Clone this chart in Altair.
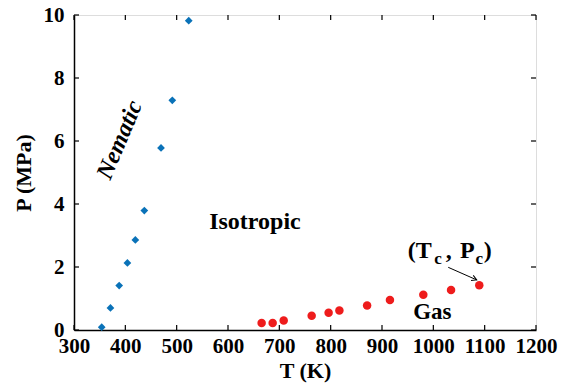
import altair as alt
import pandas as pd

# Nematic–isotropic coexistence points
nem_T = [354, 371, 388, 404, 419.5, 437, 469.5, 491.5, 523.5]
nem_P = [0.09, 0.70, 1.41, 2.13, 2.86, 3.79, 5.78, 7.29, 9.82]

# Liquid–gas coexistence points (last one is the critical point)
gas_T = [665.5, 687, 708.5, 763, 796, 817, 871, 915.5, 980.5, 1034.5, 1089.5]
gas_P = [0.22, 0.22, 0.30, 0.45, 0.55, 0.62, 0.78, 0.95, 1.12, 1.27, 1.42]

x_ticks = [300, 400, 500, 600, 700, 800, 900, 1000, 1100, 1200]
y_ticks = [0, 2, 4, 6, 8, 10]

W, H = 462, 315
FONT = "Liberation Serif"
TICK = 5

xs = alt.Scale(domain=[300, 1200], nice=False, zero=False)
ys = alt.Scale(domain=[0, 10], nice=False)

axis_style = dict(format="d", labelFont=FONT, titleFont=FONT, labelFontSize=21,
                  titleFontSize=22, labelFontWeight="bold", titleFontWeight="bold",
                  labelColor="black", titleColor="black", labelOverlap=False,
                  labelFlush=False, grid=False, tickSize=0, domainColor="black",
                  domainWidth=1.5)
x_axis = alt.Axis(values=x_ticks, labelPadding=5, titlePadding=4, **axis_style)
y_axis = alt.Axis(values=y_ticks, labelPadding=10, titlePadding=8, **axis_style)

X = lambda f: alt.X(f, type="quantitative", scale=xs, axis=x_axis, title="T (K)")
Y = lambda f: alt.Y(f, type="quantitative", scale=ys, axis=y_axis, title="P (MPa)")

nem = pd.DataFrame({"T": nem_T, "P": nem_P})
gas = pd.DataFrame({"T": gas_T, "P": gas_P})

nem_pts = alt.Chart(nem).mark_point(
    shape="diamond", filled=True, size=60, color="#0a72b8", opacity=1
).encode(x=X("T"), y=Y("P"))

gas_pts = alt.Chart(gas).mark_circle(size=72, color="#ee1c1c", opacity=1).encode(
    x=X("T"), y=Y("P")
)

# inward ticks on all four sides
xt = pd.DataFrame({"v": x_ticks})
yt = pd.DataFrame({"v": y_ticks})
tick_style = dict(color="black", strokeWidth=1.2)
bottom_ticks = alt.Chart(xt).mark_rule(**tick_style).encode(
    x=X("v"), y=alt.value(H), y2=alt.value(H - TICK))
top_ticks = alt.Chart(xt).mark_rule(**tick_style).encode(
    x=X("v"), y=alt.value(0), y2=alt.value(TICK))
left_ticks = alt.Chart(yt).mark_rule(**tick_style).encode(
    y=Y("v"), x=alt.value(0), x2=alt.value(TICK))
right_ticks = alt.Chart(yt).mark_rule(**tick_style).encode(
    y=Y("v"), x=alt.value(W), x2=alt.value(W - TICK))

# region labels
def label(t, p, txt, size, angle=0, italic=False, align="center", baseline="middle"):
    kw = dict(font=FONT, fontSize=size, fontWeight="bold", color="black",
              align=align, baseline=baseline)
    if angle:
        kw["angle"] = angle
    if italic:
        kw["fontStyle"] = "italic"
    return alt.Chart(pd.DataFrame({"T": [t], "P": [p], "s": [txt]})).mark_text(**kw).encode(
        x=X("T"), y=Y("P"), text="s:N")

nematic = label(389.5, 6.03, "Nematic", 24, angle=293, italic=True)
isotropic = label(652.5, 3.43, "Isotropic", 24)
gas_lbl = label(998, 0.57, "Gas", 23)

# critical point annotation (T_c , P_c)
crit = [
    label(950, 2.30, "(T", 24, align="left", baseline="alphabetic"),
    label(1002, 2.09, "c", 17, align="left", baseline="alphabetic"),
    label(1024, 2.30, ",", 24, align="left", baseline="alphabetic"),
    label(1052, 2.30, "P", 24, align="left", baseline="alphabetic"),
    label(1082, 2.09, "c", 17, align="left", baseline="alphabetic"),
    label(1098, 2.30, ")", 24, align="left", baseline="alphabetic"),
]

arrow_T = [1029, 1084.5]
arrow_P = [1.99, 1.59]
arrow_line = alt.Chart(pd.DataFrame({"T": [arrow_T[0]], "P": [arrow_P[0]],
                                     "T2": [arrow_T[1]], "P2": [arrow_P[1]]})).mark_rule(
    color="black", strokeWidth=1).encode(x=X("T"), y=Y("P"), x2="T2:Q", y2="P2:Q")
arrow_head = alt.Chart(pd.DataFrame({"T": [arrow_T[1]], "P": [arrow_P[1]]})).mark_point(
    shape="M-1,-0.55L0,0L-1,0.55", filled=False, color="black", strokeWidth=1,
    size=100, angle=24, opacity=1).encode(x=X("T"), y=Y("P"))

chart = alt.layer(
    bottom_ticks, top_ticks, left_ticks, right_ticks,
    nem_pts, gas_pts, nematic, isotropic, gas_lbl, *crit, arrow_line, arrow_head
).properties(
    width=W, height=H,
    autosize=alt.AutoSizeParams(type="none"),
    padding={"left": 74, "top": 15, "right": 27, "bottom": 58},
).configure_view(stroke="black", strokeWidth=1.5).configure(background="white")

chart.save("out.html", embed_options={"renderer": "svg", "actions": False})
